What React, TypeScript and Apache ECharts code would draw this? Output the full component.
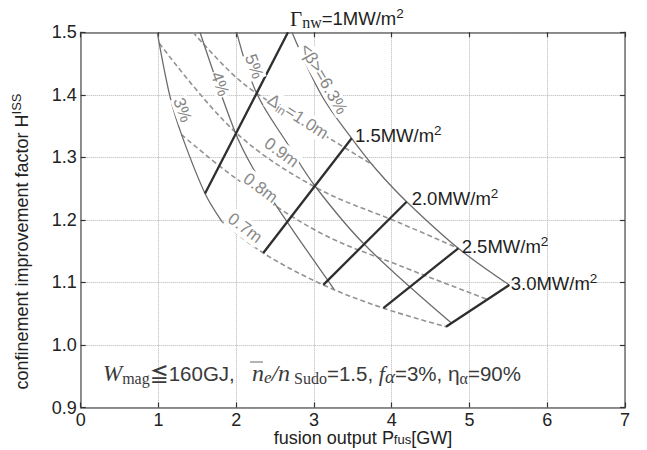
import React, { useEffect, useRef } from "react";
import * as echarts from "echarts";

// ---------- axes ----------
const xTicks = [0, 1, 2, 3, 4, 5, 6, 7];
const yTicks = [0.9, 1.0, 1.1, 1.2, 1.3, 1.4, 1.5];

// ---------- constant <beta> curves (solid) : [P_fus (GW), H_ISS] ----------
const beta3 = [[0.985, 1.5], [1.148, 1.3975], [1.297, 1.3364], [1.599, 1.2422], [1.817, 1.1974]];
const beta4 = [[1.534, 1.5], [1.984, 1.341], [2.216, 1.2826], [2.563, 1.2138], [3.257, 1.0894]];
const beta5 = [[2.006, 1.5], [2.263, 1.4024], [2.67, 1.3197], [3.013, 1.2542], [3.656, 1.1598], [4.771, 1.0348]];
const beta63 = [
  [2.717, 1.5], [3.099, 1.3989], [3.485, 1.3305], [3.807, 1.2798], [4.192, 1.2291],
  [4.856, 1.1546], [5.512, 1.0959],
];

// ---------- constant inboard thickness curves (dashed) ----------
const din07 = [[1.817, 1.1974], [2.348, 1.147], [3.12, 1.096], [3.892, 1.0589], [4.698, 1.0292]];
const din08 = [[1.296, 1.3364], [2.006, 1.2655], [3.078, 1.1795], [4.106, 1.1267], [5.221, 1.0733]];
const din09 = [[1.011, 1.4824], [1.984, 1.341], [3.013, 1.2526], [4.106, 1.195], [4.856, 1.1547]];
const din10 = [[1.444, 1.5], [1.92, 1.437], [2.263, 1.4024], [3.245, 1.3269], [3.759, 1.2878]];

// ---------- neutron wall load lines (thick) ----------
const gnw10 = [[2.666, 1.5], [1.599, 1.2422]];
const gnw15 = [[3.485, 1.3305], [2.348, 1.147]];
const gnw20 = [[4.192, 1.2291], [3.12, 1.096]];
const gnw25 = [[4.856, 1.1546], [3.892, 1.0589]];
const gnw30 = [[5.512, 1.0959], [4.698, 1.0292]];

// ---------- label texts ----------
const betaLabelTexts = ["3%", "4%", "5%", "<β>=6.3%"];
const dinLabelTexts = ["{g|Δ}{s|in}{g|=1.0m}", "{g|0.9m}", "{g|0.8m}", "{g|0.7m}"];
const gnwLabelTexts = [
  "{G|Γ}{s|nw}{m|=1MW/m}{p|2}",
  "{m|1.5MW/m}{p|2}",
  "{m|2.0MW/m}{p|2}",
  "{m|2.5MW/m}{p|2}",
  "{m|3.0MW/m}{p|2}",
];

const SANS = "'Liberation Sans', Arial, Helvetica, sans-serif";
const SERIF = "'Liberation Serif', 'Times New Roman', serif";
const CJK = "'Noto Sans CJK JP', 'Noto Sans CJK SC', sans-serif";

const deg = (d: number) => (d * Math.PI) / 180;

export default function App() {
  const ref = useRef<HTMLDivElement>(null);

  useEffect(() => {
    document.body.style.margin = "0";
    const chart = echarts.init(ref.current!, undefined, { renderer: "svg" });

    const solid = (data: number[][]) => ({
      type: "line", data, symbol: "none", showSymbol: false, silent: true,
      smooth: 0.35,
      lineStyle: { color: "#6c6c6c", width: 1.3 }, z: 3,
    });
    const dashed = (data: number[][]) => ({
      type: "line", data, symbol: "none", showSymbol: false, silent: true,
      smooth: 0.35,
      lineStyle: { color: "#939393", width: 1.6, type: [5, 3] }, z: 2,
    });
    const thick = (data: number[][]) => ({
      type: "line", data, symbol: "none", showSymbol: false, silent: true,
      lineStyle: { color: "#2e2e2e", width: 2.3 }, z: 4,
    });

    const xMin = xTicks[0], xMax = xTicks[xTicks.length - 1];
    const yMin = yTicks[0], yMax = yTicks[yTicks.length - 1];

    const axisCommon = {
      type: "value",
      axisLine: { show: true, onZero: false, lineStyle: { color: "#6e6e6e", width: 1.5 } },
      axisTick: { show: true, inside: true, length: 5, lineStyle: { color: "#333", width: 1.2 } },
    };

    chart.setOption({
      animation: false,
      backgroundColor: "#fff",
      grid: { left: 80.7, right: 22, top: 32.3, bottom: 42.5, containLabel: false },
      xAxis: [
        {
          ...axisCommon, position: "bottom", min: xMin, max: xMax, interval: 1,
          axisLabel: { fontFamily: SANS, fontSize: 18, lineHeight: 14, color: "#222", margin: 5 },
          splitLine: { show: true, lineStyle: { color: "#b4b4b4", type: "dotted", width: 1 } },
        },
        {
          ...axisCommon, position: "top", min: xMin, max: xMax, interval: 1,
          axisLabel: { show: false }, splitLine: { show: false },
        },
      ],
      yAxis: [
        {
          ...axisCommon, position: "left", min: yMin, max: yMax, interval: 0.1,
          axisLabel: {
            fontFamily: SANS, fontSize: 18, color: "#222", margin: 4,
            formatter: (v: number) => v.toFixed(1),
          },
          splitLine: { show: true, lineStyle: { color: "#b4b4b4", type: "dotted", width: 1 } },
        },
        {
          ...axisCommon, position: "right", min: yMin, max: yMax, interval: 0.1,
          axisLabel: { show: false }, splitLine: { show: false },
        },
      ],
      series: [
        dashed(din07), dashed(din08), dashed(din09), dashed(din10),
        solid(beta3), solid(beta4), solid(beta5), solid(beta63),
        thick(gnw10), thick(gnw15), thick(gnw20), thick(gnw25), thick(gnw30),
      ],
    });

    const toPx = (p: number[]) => chart.convertToPixel({ seriesIndex: 0 }, p) as number[];

    const elements: any[] = [];

    // beta labels (placed next to their curves)
    const betaAnchors = [[1.309, 1.3757], [1.791, 1.4173], [2.229, 1.4453], [3.122, 1.4253]];
    const betaAngles = [-70, -70, -70, -60];
    betaLabelTexts.forEach((t, i) => {
      const [x, y] = toPx(betaAnchors[i]);
      elements.push({
        type: "text", x, y, rotation: deg(betaAngles[i]), z: 20,
        style: {
          text: t, fill: "#858585", fontFamily: SANS, fontSize: 17,
          align: "center", verticalAlign: "middle", backgroundColor: "#fff", padding: [0, 1],
        },
      });
    });

    // inboard thickness labels
    const dinAnchors = [[2.795, 1.3653], [2.582, 1.3078], [2.312, 1.251], [2.113, 1.187]];
    const dinAngles = [-33, -36, -37, -37];
    dinLabelTexts.forEach((t, i) => {
      const [x, y] = toPx(dinAnchors[i]);
      elements.push({
        type: "text", x, y, rotation: deg(dinAngles[i]), z: 20,
        style: {
          text: t, align: "center", verticalAlign: "middle", backgroundColor: "#fff", padding: [0, 1],
          rich: {
            g: { fill: "#8a8a8a", fontFamily: SANS, fontSize: 17, lineHeight: 20, verticalAlign: "middle" },
            s: { fill: "#8a8a8a", fontFamily: SANS, fontSize: 12, lineHeight: 12, verticalAlign: "bottom" },
          },
        },
      });
    });

    // wall-load labels at the top ends of the thick lines
    const gnwSeries = [gnw10, gnw15, gnw20, gnw25, gnw30];
    const gnwOffsets = [[2, -7.3], [3.3, 3.4], [5, 3.3], [3.4, 4.7], [1.4, 5]];
    gnwLabelTexts.forEach((t, i) => {
      const [x0, y0] = toPx(gnwSeries[i][0]);
      const baseline = y0 + gnwOffsets[i][1];
      elements.push({
        type: "text", x: x0 + gnwOffsets[i][0], y: baseline - 6.4, z: 20,
        style: {
          text: t, align: "left", verticalAlign: "middle",
          rich: {
            m: { fill: "#1e1e1e", fontFamily: SANS, fontSize: 18.5, lineHeight: 24, verticalAlign: "middle" },
            G: { fill: "#1e1e1e", fontFamily: SERIF, fontSize: 21, lineHeight: 24, verticalAlign: "middle" },
            s: { fill: "#1e1e1e", fontFamily: SERIF, fontSize: 16, lineHeight: 15, verticalAlign: "bottom" },
            p: { fill: "#1e1e1e", fontFamily: SANS, fontSize: 13.5, lineHeight: 13, verticalAlign: "top" },
          },
        },
      });
    });

    // condition text
    const condX = 103, condBaseline = 380;
    const ink = "#3a3a3a";
    elements.push({
      type: "text", x: condX, y: condBaseline - 6.8, z: 20,
      style: {
        text:
          "{wi|W}{sb|mag}{sy|≦}{n|160GJ,   }{ni|n}{sbi|e}{ni|/n}{sb| Sudo}{n|=1.5, }{fi|f}{ga|α}{n|=3%, }{eta|η}{sb|α}{n|=90%}",
        align: "left", verticalAlign: "middle",
        rich: {
          wi: { fill: ink, fontFamily: SERIF, fontStyle: "italic", fontSize: 23, lineHeight: 26, verticalAlign: "middle" },
          ni: { fill: ink, fontFamily: SERIF, fontStyle: "italic", fontSize: 24, lineHeight: 26, verticalAlign: "middle" },
          fi: { fill: ink, fontFamily: SERIF, fontStyle: "italic", fontSize: 22, lineHeight: 26, verticalAlign: "middle" },
          ga: { fill: ink, fontFamily: SERIF, fontStyle: "italic", fontSize: 19, lineHeight: 21, verticalAlign: "bottom" },
          sb: { fill: ink, fontFamily: SERIF, fontSize: 16, lineHeight: 16, verticalAlign: "bottom" },
          sbi: { fill: ink, fontFamily: SERIF, fontStyle: "italic", fontSize: 17, lineHeight: 18, verticalAlign: "bottom" },
          sy: { fill: ink, fontFamily: CJK, fontWeight: "bold", fontSize: 19, lineHeight: 26, verticalAlign: "middle" },
          n: { fill: ink, fontFamily: SANS, fontSize: 20.5, lineHeight: 26, verticalAlign: "middle" },
          eta: { fill: ink, fontFamily: SANS, fontSize: 21, lineHeight: 26, verticalAlign: "middle" },
        },
      },
    });
    // overline over n
    elements.push({
      type: "line", z: 20,
      shape: { x1: 250, y1: 362, x2: 263, y2: 362 },
      style: { stroke: "#9a9a9a", lineWidth: 1.5 },
    });

    // axis names
    elements.push({
      type: "text", x: 363, y: 444.5 - 6.3, z: 20,
      style: {
        text: "{m|fusion output P}{s|fus}{m|[GW]}", align: "center", verticalAlign: "middle",
        rich: {
          m: { fill: "#222", fontFamily: SANS, fontSize: 18, lineHeight: 16, verticalAlign: "middle" },
          s: { fill: "#222", fontFamily: SANS, fontSize: 13, lineHeight: 10, verticalAlign: "bottom" },
        },
      },
    });
    elements.push({
      type: "text", x: 22, y: 241.5, rotation: Math.PI / 2, z: 20,
      style: {
        text: "{m|confinement improvement factor H}{p|ISS}", align: "center", verticalAlign: "middle",
        rich: {
          m: { fill: "#222", fontFamily: SANS, fontSize: 18, lineHeight: 24, verticalAlign: "middle" },
          p: { fill: "#222", fontFamily: SANS, fontSize: 13, lineHeight: 13, verticalAlign: "top" },
        },
      },
    });

    chart.setOption({ graphic: { elements } });

    return () => chart.dispose();
  }, []);

  return <div ref={ref} style={{ position: "absolute", left: 0, top: 0, width: 647, height: 450 }} />;
}
